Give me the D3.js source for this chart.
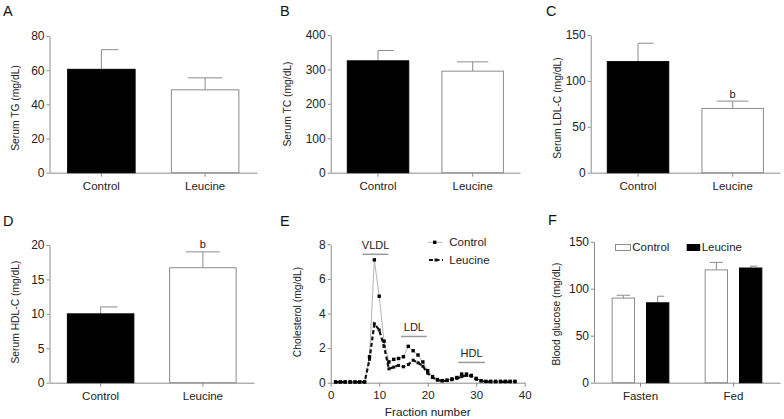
<!DOCTYPE html>
<html>
<head>
<meta charset="utf-8">
<script src="https://cdn.jsdelivr.net/npm/d3@7"></script>
<style>
  body { margin: 0; background: #fff; }
  svg { display: block; font-family: "Liberation Sans", Arial, sans-serif; }
  .axis path, .axis line { stroke: #8c8c8c; }
  .axis text { fill: #222; font-size: 11.5px; }
  .yaxis text { font-size: 12px; }
</style>
</head>
<body>
<svg id="chart" width="784" height="419"></svg>
<script>
// ---- data ----
const groups = ['Control', 'Leucine'];

const tgMean = [60.5, 48.5];
const tgErr = [72, 55.5];
const tcMean = [325, 295];
const tcErr = [355, 322];
const ldlMean = [121, 70];
const ldlErr = [141, 78];
const hdlMean = [10, 16.7];
const hdlErr = [11, 19];

const fractions = d3.range(1, 39);
const fracControl = [0.05, 0.05, 0.05, 0.05, 0.05, 0.05, 0.05, 1.5, 7.1, 5.0, 2.4, 1.2, 1.35, 1.4, 1.5, 2.1,
  1.85, 1.6, 1.2, 0.7, 0.35, 0.18, 0.12, 0.15, 0.22, 0.3, 0.5, 0.5, 0.42, 0.25, 0.12, 0.08, 0.08, 0.08,
  0.08, 0.08, 0.08, 0.08];
const fracLeucine = [0.03, 0.03, 0.03, 0.03, 0.03, 0.03, 0.03, 1.35, 3.4, 3.05, 2.1, 0.8, 0.9, 1.0, 0.92, 1.05,
  1.3, 1.15, 0.95, 0.55, 0.3, 0.15, 0.1, 0.12, 0.17, 0.25, 0.35, 0.42, 0.38, 0.2, 0.1, 0.06, 0.05, 0.05,
  0.05, 0.05, 0.05, 0.05];
const peaks = [
  {name: 'VLDL', from: 6.6, to: 11.9, level: 7.45},
  {name: 'LDL', from: 14.5, to: 19.8, level: 2.7},
  {name: 'HDL', from: 26.3, to: 31.8, level: 1.2}
];

const glucoseStates = ['Fasten', 'Fed'];
const glucoseMean = {Control: [90, 120], Leucine: [85, 122]};
const glucoseErr = {Control: [93, 128], Leucine: [92, 124]};

const svg = d3.select('#chart');
const grey = '#8c8c8c';

function panelLetter(letter, x, y) {
  svg.append('text')
    .attr('x', x).attr('y', y)
    .attr('font-size', '14.5px')
    .attr('fill', '#111')
    .text(letter);
}

function yTitle(label, cx, cy) {
  svg.append('text')
    .attr('transform', 'translate(' + cx + ',' + cy + ') rotate(-90)')
    .attr('text-anchor', 'middle')
    .attr('dominant-baseline', 'central')
    .attr('font-size', '10.3px')
    .attr('fill', '#222')
    .text(label);
}

function yAxis(y, x0, ticks) {
  svg.append('g')
    .attr('class', 'axis yaxis')
    .attr('transform', 'translate(' + x0 + ',0)')
    .call(d3.axisLeft(y).tickValues(ticks).tickSize(3).tickSizeOuter(0).tickPadding(2));
}

function barPanel(opt) {
  const x = d3.scaleBand().domain(groups).range([opt.x0, opt.x1]).paddingInner(0.34).paddingOuter(0.17);
  const y = d3.scaleLinear().domain([0, opt.max]).range([opt.yBot, opt.yTop]);
  const bw = x.bandwidth();

  yAxis(y, opt.x0, opt.ticks);
  svg.append('g')
    .attr('class', 'axis')
    .attr('transform', 'translate(0,' + opt.yBot + ')')
    .call(d3.axisBottom(x).tickSize(4).tickSizeOuter(0).tickPadding(5));

  const g = svg.append('g');
  groups.forEach((grp, i) => {
    const dark = opt.dark[i];
    const cx = x(grp) + bw / 2;
    // error whisker (upper only)
    g.append('line')
      .attr('x1', cx).attr('x2', cx)
      .attr('y1', y(opt.mean[i])).attr('y2', y(opt.err[i]))
      .attr('stroke', grey);
    g.append('line')
      .attr('x1', dark ? cx : cx - bw / 4).attr('x2', cx + bw / 4)
      .attr('y1', y(opt.err[i])).attr('y2', y(opt.err[i]))
      .attr('stroke', grey);
    g.append('rect')
      .attr('x', x(grp) + 0.5).attr('y', y(opt.mean[i]))
      .attr('width', bw - 1).attr('height', y(0) - y(opt.mean[i]))
      .attr('fill', dark ? '#000' : '#fff')
      .attr('stroke', dark ? '#000' : grey);
    if (opt.sig && opt.sig[i]) {
      g.append('text')
        .attr('x', cx).attr('y', y(opt.err[i]) - 3.5)
        .attr('text-anchor', 'middle')
        .attr('font-size', '11px')
        .attr('fill', '#222')
        .text(opt.sig[i]);
    }
  });
  yTitle(opt.title, opt.tx, opt.ty);
}

// ---- A-D ----
panelLetter('A', 3, 16);
barPanel({x0: 49.5, x1: 257, yTop: 36, yBot: 172.7, max: 80, ticks: [0, 20, 40, 60, 80],
  mean: tgMean, err: tgErr, dark: [true, false], title: 'Serum TG (mg/dL)', tx: 15, ty: 108});

panelLetter('B', 280, 16);
barPanel({x0: 330.7, x1: 520, yTop: 35, yBot: 172.7, max: 400, ticks: [0, 100, 200, 300, 400],
  mean: tcMean, err: tcErr, dark: [true, false], title: 'Serum TC (mg/dL)', tx: 287, ty: 104});

panelLetter('C', 546, 16);
barPanel({x0: 590.7, x1: 780, yTop: 35, yBot: 172.7, max: 150, ticks: [0, 50, 100, 150],
  mean: ldlMean, err: ldlErr, dark: [true, false], sig: [null, 'b'],
  title: 'Serum LDL-C (mg/dL)', tx: 557, ty: 108});

panelLetter('D', 3, 226);
barPanel({x0: 49.5, x1: 254, yTop: 245, yBot: 382.7, max: 20, ticks: [0, 5, 10, 15, 20],
  mean: hdlMean, err: hdlErr, dark: [true, false], sig: [null, 'b'],
  title: 'Serum HDL-C (mg/dL)', tx: 15, ty: 312});

// ---- E: lipoprotein profile ----
(function () {
  const x = d3.scaleLinear().domain([0, 40]).range([330.7, 524.7]);
  const y = d3.scaleLinear().domain([0, 8]).range([382.7, 244.3]);
  panelLetter('E', 280, 226);
  yAxis(y, 330.7, [0, 2, 4, 6, 8]);
  const xa = svg.append('g')
    .attr('class', 'axis')
    .attr('transform', 'translate(0,382.7)')
    .call(d3.axisBottom(x).tickValues([0, 10, 20, 30, 40]).tickSize(4).tickSizeOuter(0).tickPadding(4));
  xa.selectAll('text').attr('font-size', '13px');

  svg.append('text')
    .attr('x', x(20)).attr('y', 415.5)
    .attr('text-anchor', 'middle')
    .attr('font-size', '11.8px').attr('fill', '#222')
    .text('Fraction number');
  yTitle('Cholesterol (mg/dL)', 297.7, 312);

  const line = d3.line().x((d, i) => x(fractions[i])).y(d => y(d));
  svg.append('path').datum(fracControl)
    .attr('d', line).attr('fill', 'none')
    .attr('stroke', '#b5b5b5').attr('stroke-width', 1);
  svg.append('path').datum(fracLeucine)
    .attr('d', line).attr('fill', 'none')
    .attr('stroke', '#111').attr('stroke-width', 2.2)
    .attr('stroke-dasharray', '4,2.5');
  svg.append('g').selectAll('rect').data(fracLeucine).join('rect')
    .attr('x', (d, i) => x(fractions[i]) - 1.5).attr('y', d => y(d) - 1.5)
    .attr('width', 3).attr('height', 3).attr('fill', '#111');
  svg.append('g').selectAll('rect').data(fracControl).join('rect')
    .attr('x', (d, i) => x(fractions[i]) - 1.7).attr('y', d => y(d) - 1.7)
    .attr('width', 3.4).attr('height', 3.4).attr('fill', '#000');

  peaks.forEach(p => {
    svg.append('line')
      .attr('x1', x(p.from)).attr('x2', x(p.to))
      .attr('y1', y(p.level) + 0.5).attr('y2', y(p.level) + 0.5)
      .attr('stroke', '#999').attr('stroke-width', 1.5);
    svg.append('text')
      .attr('x', x((p.from + p.to) / 2)).attr('y', y(p.level) - 4.5)
      .attr('text-anchor', 'middle')
      .attr('font-size', '11px').attr('fill', '#222')
      .text(p.name);
  });

  // legend
  const lg = svg.append('g');
  lg.append('line').attr('x1', 428).attr('x2', 442).attr('y1', 242.3).attr('y2', 242.3)
    .attr('stroke', '#b5b5b5');
  lg.append('rect').attr('x', 433).attr('y', 240.6).attr('width', 3.4).attr('height', 3.4).attr('fill', '#000');
  lg.append('text').attr('x', 449.3).attr('y', 246.2).attr('font-size', '11.5px').attr('fill', '#222').text('Control');
  lg.append('line').attr('x1', 429).attr('x2', 443).attr('y1', 260).attr('y2', 260)
    .attr('stroke', '#111').attr('stroke-width', 2.2).attr('stroke-dasharray', '4,2.5');
  lg.append('rect').attr('x', 434.5).attr('y', 258.5).attr('width', 3).attr('height', 3).attr('fill', '#111');
  lg.append('text').attr('x', 449.3).attr('y', 264).attr('font-size', '11.5px').attr('fill', '#222').text('Leucine');
})();

// ---- F: blood glucose ----
(function () {
  const series = ['Control', 'Leucine'];
  const x = d3.scaleBand().domain(glucoseStates).range([594, 780]).paddingInner(0.38).paddingOuter(0.19);
  const xs = d3.scaleBand().domain(series).range([0, x.bandwidth()]).paddingInner(0.32);
  const y = d3.scaleLinear().domain([0, 150]).range([382.7, 241.7]);
  const bw = xs.bandwidth();
  panelLetter('F', 548, 225);
  yAxis(y, 594, [0, 50, 100, 150]);
  svg.append('g')
    .attr('class', 'axis')
    .attr('transform', 'translate(0,382.7)')
    .call(d3.axisBottom(x).tickSize(4).tickSizeOuter(0).tickPadding(5));
  yTitle('Blood glucose (mg/dL)', 556.7, 314);

  glucoseStates.forEach((st, j) => {
    series.forEach(s => {
      const dark = s === 'Leucine';
      const bx = x(st) + xs(s);
      const cx = bx + bw / 2;
      const m = glucoseMean[s][j], e = glucoseErr[s][j];
      svg.append('line').attr('x1', cx).attr('x2', cx).attr('y1', y(m)).attr('y2', y(e)).attr('stroke', grey);
      svg.append('line').attr('x1', dark ? cx : cx - bw / 3.5).attr('x2', cx + bw / 3.5)
        .attr('y1', y(e)).attr('y2', y(e)).attr('stroke', grey);
      svg.append('rect')
        .attr('x', bx + 0.5).attr('y', y(m))
        .attr('width', bw - 1).attr('height', y(0) - y(m))
        .attr('fill', dark ? '#000' : '#fff')
        .attr('stroke', dark ? '#000' : grey);
    });
  });

  // legend
  const lg = svg.append('g');
  lg.append('rect').attr('x', 615.5).attr('y', 244.5).attr('width', 15).attr('height', 6)
    .attr('fill', '#fff').attr('stroke', grey);
  lg.append('text').attr('x', 632.3).attr('y', 251.2).attr('font-size', '11.5px').attr('fill', '#222').text('Control');
  lg.append('rect').attr('x', 686.7).attr('y', 244).attr('width', 13.5).attr('height', 7).attr('fill', '#000');
  lg.append('text').attr('x', 701.7).attr('y', 251.2).attr('font-size', '11.5px').attr('fill', '#222').text('Leucine');
})();
</script>
</body>
</html>
